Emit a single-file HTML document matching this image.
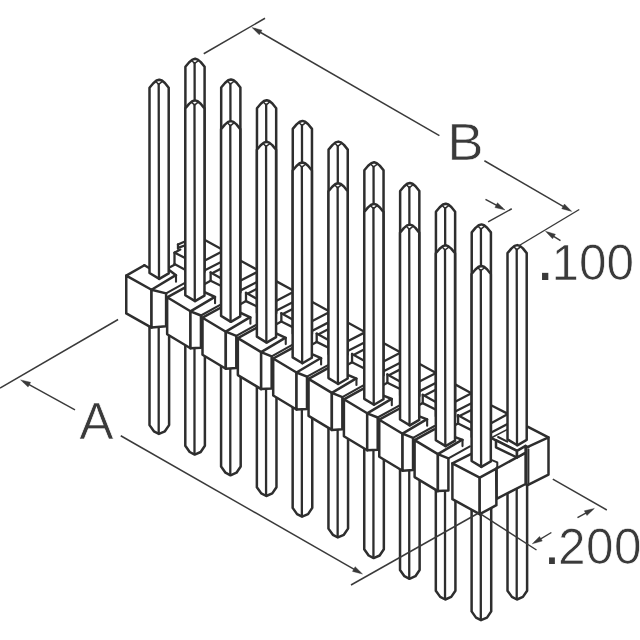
<!DOCTYPE html>
<html lang="en"><head><meta charset="utf-8"><title>Pin header drawing</title>
<style>
html,body{margin:0;padding:0;background:#fff;}
body{width:640px;height:640px;overflow:hidden;font-family:"Liberation Sans",Arial,sans-serif;}
svg{display:block;}
</style></head><body>
<svg width="640" height="640" viewBox="0 0 640 640">
<rect width="640" height="640" fill="#fff"/>
<path d="M507.51,470.00 L507.51,590.70 L511.91,596.90 L516.91,599.50 L522.91,596.90 L527.11,590.70 L527.11,470.00" fill="#fff" stroke="#2e2e2e" stroke-width="2.5" stroke-linejoin="round" stroke-linecap="round"/>
<line x1="516.71" y1="470.00" x2="516.71" y2="598.90" stroke="#2e2e2e" stroke-width="2.3" stroke-linecap="round"/>
<path d="M489.00,436.80 L496.00,440.30 L517.00,450.90 L526.00,446.40 L548.40,437.40 L528.40,427.00 L489.00,406.50 Z" fill="#fff" stroke="none" stroke-width="0" stroke-linejoin="round" stroke-linecap="round"/>
<path d="M496.00,447.30 L517.00,457.50 L496.60,468.60 Z" fill="#fff" stroke="none" stroke-width="0" stroke-linejoin="round" stroke-linecap="round"/>
<line x1="487.00" y1="425.40" x2="507.00" y2="414.60" stroke="#2e2e2e" stroke-width="2.3" stroke-linecap="round"/>
<line x1="487.00" y1="434.80" x2="507.00" y2="424.20" stroke="#2e2e2e" stroke-width="2.3" stroke-linecap="round"/>
<line x1="492.00" y1="405.80" x2="507.50" y2="413.60" stroke="#2e2e2e" stroke-width="2.3" stroke-linecap="round"/>
<line x1="490.00" y1="438.50" x2="507.00" y2="429.60" stroke="#2e2e2e" stroke-width="1.6" stroke-linecap="round"/>
<line x1="489.00" y1="436.80" x2="496.00" y2="440.30" stroke="#2e2e2e" stroke-width="2.5" stroke-linecap="round"/>
<line x1="496.00" y1="440.30" x2="517.00" y2="450.90" stroke="#2e2e2e" stroke-width="2.5" stroke-linecap="round"/>
<line x1="528.00" y1="426.80" x2="548.40" y2="437.40" stroke="#2e2e2e" stroke-width="2.5" stroke-linecap="round"/>
<line x1="498.10" y1="437.00" x2="507.30" y2="441.60" stroke="#2e2e2e" stroke-width="2.0" stroke-linecap="round"/>
<path d="M496.60,468.50 L525.60,452.60 L525.60,484.00 L496.60,498.80 Z" fill="#fff" stroke="#2e2e2e" stroke-width="2.5" stroke-linejoin="round" stroke-linecap="round"/>
<path d="M496.00,440.30 L517.00,450.90 L517.00,457.50 L496.00,447.30 Z" fill="#fff" stroke="#2e2e2e" stroke-width="2.5" stroke-linejoin="round" stroke-linecap="round"/>
<path d="M517.00,450.90 L525.60,445.80 L525.60,452.60 L517.00,457.50 Z" fill="#fff" stroke="#2e2e2e" stroke-width="2.5" stroke-linejoin="round" stroke-linecap="round"/>
<path d="M526.20,447.60 L548.50,437.40 L548.50,474.60 L527.60,485.20 L526.20,484.40 Z" fill="#fff" stroke="#2e2e2e" stroke-width="2.5" stroke-linejoin="round" stroke-linecap="round"/>
<line x1="528.40" y1="449.50" x2="528.40" y2="484.60" stroke="#2e2e2e" stroke-width="2.0" stroke-linecap="round"/>
<line x1="525.60" y1="445.80" x2="528.60" y2="447.40" stroke="#2e2e2e" stroke-width="2.0" stroke-linecap="round"/>
<path d="M507.51,439.40 L517.31,445.30 L526.71,439.80 L526.71,253.10 L522.91,248.40 L519.91,245.90 L517.31,245.10 L514.51,245.90 L511.31,248.60 L507.51,253.10 Z" fill="#fff" stroke="#2e2e2e" stroke-width="2.5" stroke-linejoin="round" stroke-linecap="round"/>
<line x1="516.71" y1="249.60" x2="517.01" y2="445.30" stroke="#2e2e2e" stroke-width="2.3" stroke-linecap="round"/>
<path d="M514.11,247.10 L516.71,249.80 L520.11,247.10" fill="none" stroke="#2e2e2e" stroke-width="1.5" stroke-linejoin="round" stroke-linecap="round"/>
<line x1="203.95" y1="239.57" x2="224.45" y2="250.79" stroke="#2e2e2e" stroke-width="2.3" stroke-linecap="round"/>
<line x1="202.45" y1="261.70" x2="224.95" y2="250.02" stroke="#2e2e2e" stroke-width="2.3" stroke-linecap="round"/>
<line x1="202.45" y1="271.47" x2="225.45" y2="259.68" stroke="#2e2e2e" stroke-width="2.3" stroke-linecap="round"/>
<line x1="210.65" y1="272.40" x2="225.45" y2="280.67" stroke="#2e2e2e" stroke-width="2.3" stroke-linecap="round"/>
<line x1="210.65" y1="272.40" x2="210.65" y2="280.70" stroke="#2e2e2e" stroke-width="2.3" stroke-linecap="round"/>
<line x1="213.05" y1="272.80" x2="225.45" y2="266.36" stroke="#2e2e2e" stroke-width="2.3" stroke-linecap="round"/>
<line x1="202.45" y1="285.30" x2="210.65" y2="280.70" stroke="#2e2e2e" stroke-width="2.3" stroke-linecap="round"/>
<line x1="210.65" y1="280.70" x2="225.45" y2="288.07" stroke="#2e2e2e" stroke-width="2.3" stroke-linecap="round"/>
<line x1="239.30" y1="259.97" x2="259.80" y2="271.19" stroke="#2e2e2e" stroke-width="2.3" stroke-linecap="round"/>
<line x1="237.80" y1="282.10" x2="260.30" y2="270.42" stroke="#2e2e2e" stroke-width="2.3" stroke-linecap="round"/>
<line x1="237.80" y1="291.87" x2="260.80" y2="280.08" stroke="#2e2e2e" stroke-width="2.3" stroke-linecap="round"/>
<line x1="246.00" y1="292.80" x2="260.80" y2="301.07" stroke="#2e2e2e" stroke-width="2.3" stroke-linecap="round"/>
<line x1="246.00" y1="292.80" x2="246.00" y2="301.10" stroke="#2e2e2e" stroke-width="2.3" stroke-linecap="round"/>
<line x1="248.40" y1="293.20" x2="260.80" y2="286.76" stroke="#2e2e2e" stroke-width="2.3" stroke-linecap="round"/>
<line x1="237.80" y1="305.70" x2="246.00" y2="301.10" stroke="#2e2e2e" stroke-width="2.3" stroke-linecap="round"/>
<line x1="246.00" y1="301.10" x2="260.80" y2="308.47" stroke="#2e2e2e" stroke-width="2.3" stroke-linecap="round"/>
<line x1="274.65" y1="280.37" x2="295.15" y2="291.59" stroke="#2e2e2e" stroke-width="2.3" stroke-linecap="round"/>
<line x1="273.15" y1="302.50" x2="295.65" y2="290.82" stroke="#2e2e2e" stroke-width="2.3" stroke-linecap="round"/>
<line x1="273.15" y1="312.27" x2="296.15" y2="300.48" stroke="#2e2e2e" stroke-width="2.3" stroke-linecap="round"/>
<line x1="281.35" y1="313.20" x2="296.15" y2="321.47" stroke="#2e2e2e" stroke-width="2.3" stroke-linecap="round"/>
<line x1="281.35" y1="313.20" x2="281.35" y2="321.50" stroke="#2e2e2e" stroke-width="2.3" stroke-linecap="round"/>
<line x1="283.75" y1="313.60" x2="296.15" y2="307.16" stroke="#2e2e2e" stroke-width="2.3" stroke-linecap="round"/>
<line x1="273.15" y1="326.10" x2="281.35" y2="321.50" stroke="#2e2e2e" stroke-width="2.3" stroke-linecap="round"/>
<line x1="281.35" y1="321.50" x2="296.15" y2="328.87" stroke="#2e2e2e" stroke-width="2.3" stroke-linecap="round"/>
<line x1="310.00" y1="300.77" x2="330.50" y2="311.99" stroke="#2e2e2e" stroke-width="2.3" stroke-linecap="round"/>
<line x1="308.50" y1="322.90" x2="331.00" y2="311.22" stroke="#2e2e2e" stroke-width="2.3" stroke-linecap="round"/>
<line x1="308.50" y1="332.67" x2="331.50" y2="320.88" stroke="#2e2e2e" stroke-width="2.3" stroke-linecap="round"/>
<line x1="316.70" y1="333.60" x2="331.50" y2="341.87" stroke="#2e2e2e" stroke-width="2.3" stroke-linecap="round"/>
<line x1="316.70" y1="333.60" x2="316.70" y2="341.90" stroke="#2e2e2e" stroke-width="2.3" stroke-linecap="round"/>
<line x1="319.10" y1="334.00" x2="331.50" y2="327.56" stroke="#2e2e2e" stroke-width="2.3" stroke-linecap="round"/>
<line x1="308.50" y1="346.50" x2="316.70" y2="341.90" stroke="#2e2e2e" stroke-width="2.3" stroke-linecap="round"/>
<line x1="316.70" y1="341.90" x2="331.50" y2="349.27" stroke="#2e2e2e" stroke-width="2.3" stroke-linecap="round"/>
<line x1="345.35" y1="321.17" x2="365.85" y2="332.39" stroke="#2e2e2e" stroke-width="2.3" stroke-linecap="round"/>
<line x1="343.85" y1="343.30" x2="366.35" y2="331.62" stroke="#2e2e2e" stroke-width="2.3" stroke-linecap="round"/>
<line x1="343.85" y1="353.07" x2="366.85" y2="341.28" stroke="#2e2e2e" stroke-width="2.3" stroke-linecap="round"/>
<line x1="352.05" y1="354.00" x2="366.85" y2="362.27" stroke="#2e2e2e" stroke-width="2.3" stroke-linecap="round"/>
<line x1="352.05" y1="354.00" x2="352.05" y2="362.30" stroke="#2e2e2e" stroke-width="2.3" stroke-linecap="round"/>
<line x1="354.45" y1="354.40" x2="366.85" y2="347.96" stroke="#2e2e2e" stroke-width="2.3" stroke-linecap="round"/>
<line x1="343.85" y1="366.90" x2="352.05" y2="362.30" stroke="#2e2e2e" stroke-width="2.3" stroke-linecap="round"/>
<line x1="352.05" y1="362.30" x2="366.85" y2="369.67" stroke="#2e2e2e" stroke-width="2.3" stroke-linecap="round"/>
<line x1="380.70" y1="341.57" x2="401.20" y2="352.79" stroke="#2e2e2e" stroke-width="2.3" stroke-linecap="round"/>
<line x1="379.20" y1="363.70" x2="401.70" y2="352.02" stroke="#2e2e2e" stroke-width="2.3" stroke-linecap="round"/>
<line x1="379.20" y1="373.47" x2="402.20" y2="361.68" stroke="#2e2e2e" stroke-width="2.3" stroke-linecap="round"/>
<line x1="387.40" y1="374.40" x2="402.20" y2="382.67" stroke="#2e2e2e" stroke-width="2.3" stroke-linecap="round"/>
<line x1="387.40" y1="374.40" x2="387.40" y2="382.70" stroke="#2e2e2e" stroke-width="2.3" stroke-linecap="round"/>
<line x1="389.80" y1="374.80" x2="402.20" y2="368.36" stroke="#2e2e2e" stroke-width="2.3" stroke-linecap="round"/>
<line x1="379.20" y1="387.30" x2="387.40" y2="382.70" stroke="#2e2e2e" stroke-width="2.3" stroke-linecap="round"/>
<line x1="387.40" y1="382.70" x2="402.20" y2="390.07" stroke="#2e2e2e" stroke-width="2.3" stroke-linecap="round"/>
<line x1="416.05" y1="361.97" x2="436.55" y2="373.19" stroke="#2e2e2e" stroke-width="2.3" stroke-linecap="round"/>
<line x1="414.55" y1="384.10" x2="437.05" y2="372.42" stroke="#2e2e2e" stroke-width="2.3" stroke-linecap="round"/>
<line x1="414.55" y1="393.87" x2="437.55" y2="382.08" stroke="#2e2e2e" stroke-width="2.3" stroke-linecap="round"/>
<line x1="422.75" y1="394.80" x2="437.55" y2="403.07" stroke="#2e2e2e" stroke-width="2.3" stroke-linecap="round"/>
<line x1="422.75" y1="394.80" x2="422.75" y2="403.10" stroke="#2e2e2e" stroke-width="2.3" stroke-linecap="round"/>
<line x1="425.15" y1="395.20" x2="437.55" y2="388.76" stroke="#2e2e2e" stroke-width="2.3" stroke-linecap="round"/>
<line x1="414.55" y1="407.70" x2="422.75" y2="403.10" stroke="#2e2e2e" stroke-width="2.3" stroke-linecap="round"/>
<line x1="422.75" y1="403.10" x2="437.55" y2="410.47" stroke="#2e2e2e" stroke-width="2.3" stroke-linecap="round"/>
<line x1="451.40" y1="382.37" x2="471.90" y2="393.59" stroke="#2e2e2e" stroke-width="2.3" stroke-linecap="round"/>
<line x1="449.90" y1="404.50" x2="472.40" y2="392.82" stroke="#2e2e2e" stroke-width="2.3" stroke-linecap="round"/>
<line x1="449.90" y1="414.27" x2="472.90" y2="402.48" stroke="#2e2e2e" stroke-width="2.3" stroke-linecap="round"/>
<line x1="458.10" y1="415.20" x2="472.90" y2="423.47" stroke="#2e2e2e" stroke-width="2.3" stroke-linecap="round"/>
<line x1="458.10" y1="415.20" x2="458.10" y2="423.50" stroke="#2e2e2e" stroke-width="2.3" stroke-linecap="round"/>
<line x1="460.50" y1="415.60" x2="472.90" y2="409.16" stroke="#2e2e2e" stroke-width="2.3" stroke-linecap="round"/>
<line x1="449.90" y1="428.10" x2="458.10" y2="423.50" stroke="#2e2e2e" stroke-width="2.3" stroke-linecap="round"/>
<line x1="458.10" y1="423.50" x2="472.90" y2="430.87" stroke="#2e2e2e" stroke-width="2.3" stroke-linecap="round"/>
<line x1="178.00" y1="244.50" x2="186.00" y2="241.00" stroke="#2e2e2e" stroke-width="2.3" stroke-linecap="round"/>
<line x1="178.00" y1="244.50" x2="178.00" y2="248.80" stroke="#2e2e2e" stroke-width="2.3" stroke-linecap="round"/>
<line x1="179.50" y1="247.40" x2="186.00" y2="245.00" stroke="#2e2e2e" stroke-width="2.3" stroke-linecap="round"/>
<line x1="174.50" y1="252.70" x2="180.30" y2="249.60" stroke="#2e2e2e" stroke-width="2.3" stroke-linecap="round"/>
<line x1="174.80" y1="252.70" x2="186.00" y2="258.50" stroke="#2e2e2e" stroke-width="2.3" stroke-linecap="round"/>
<line x1="174.50" y1="252.70" x2="174.50" y2="264.00" stroke="#2e2e2e" stroke-width="2.3" stroke-linecap="round"/>
<line x1="174.50" y1="264.00" x2="186.00" y2="270.20" stroke="#2e2e2e" stroke-width="2.3" stroke-linecap="round"/>
<line x1="169.40" y1="267.50" x2="174.50" y2="264.80" stroke="#2e2e2e" stroke-width="2.3" stroke-linecap="round"/>
<path d="M185.40,271.22 L195.20,277.12 L204.60,271.62 L204.60,66.80 L200.80,62.10 L197.80,59.60 L195.20,58.80 L192.40,59.60 L189.20,62.30 L185.40,66.80 Z" fill="#fff" stroke="#2e2e2e" stroke-width="2.5" stroke-linejoin="round" stroke-linecap="round"/>
<line x1="194.60" y1="63.30" x2="194.90" y2="277.12" stroke="#2e2e2e" stroke-width="2.3" stroke-linecap="round"/>
<path d="M192.00,60.80 L194.60,63.50 L198.00,60.80" fill="none" stroke="#2e2e2e" stroke-width="1.5" stroke-linejoin="round" stroke-linecap="round"/>
<path d="M221.19,291.94 L230.99,297.84 L240.39,292.34 L240.39,87.50 L236.59,82.80 L233.59,80.30 L230.99,79.50 L228.19,80.30 L224.99,83.00 L221.19,87.50 Z" fill="#fff" stroke="#2e2e2e" stroke-width="2.5" stroke-linejoin="round" stroke-linecap="round"/>
<line x1="230.39" y1="84.00" x2="230.69" y2="297.84" stroke="#2e2e2e" stroke-width="2.3" stroke-linecap="round"/>
<path d="M227.79,81.50 L230.39,84.20 L233.79,81.50" fill="none" stroke="#2e2e2e" stroke-width="1.5" stroke-linejoin="round" stroke-linecap="round"/>
<path d="M256.98,312.66 L266.78,318.56 L276.18,313.06 L276.18,108.20 L272.38,103.50 L269.38,101.00 L266.78,100.20 L263.98,101.00 L260.78,103.70 L256.98,108.20 Z" fill="#fff" stroke="#2e2e2e" stroke-width="2.5" stroke-linejoin="round" stroke-linecap="round"/>
<line x1="266.18" y1="104.70" x2="266.48" y2="318.56" stroke="#2e2e2e" stroke-width="2.3" stroke-linecap="round"/>
<path d="M263.58,102.20 L266.18,104.90 L269.58,102.20" fill="none" stroke="#2e2e2e" stroke-width="1.5" stroke-linejoin="round" stroke-linecap="round"/>
<path d="M292.77,333.38 L302.57,339.28 L311.97,333.78 L311.97,128.90 L308.17,124.20 L305.17,121.70 L302.57,120.90 L299.77,121.70 L296.57,124.40 L292.77,128.90 Z" fill="#fff" stroke="#2e2e2e" stroke-width="2.5" stroke-linejoin="round" stroke-linecap="round"/>
<line x1="301.97" y1="125.40" x2="302.27" y2="339.28" stroke="#2e2e2e" stroke-width="2.3" stroke-linecap="round"/>
<path d="M299.37,122.90 L301.97,125.60 L305.37,122.90" fill="none" stroke="#2e2e2e" stroke-width="1.5" stroke-linejoin="round" stroke-linecap="round"/>
<path d="M328.56,354.10 L338.36,360.00 L347.76,354.50 L347.76,149.60 L343.96,144.90 L340.96,142.40 L338.36,141.60 L335.56,142.40 L332.36,145.10 L328.56,149.60 Z" fill="#fff" stroke="#2e2e2e" stroke-width="2.5" stroke-linejoin="round" stroke-linecap="round"/>
<line x1="337.76" y1="146.10" x2="338.06" y2="360.00" stroke="#2e2e2e" stroke-width="2.3" stroke-linecap="round"/>
<path d="M335.16,143.60 L337.76,146.30 L341.16,143.60" fill="none" stroke="#2e2e2e" stroke-width="1.5" stroke-linejoin="round" stroke-linecap="round"/>
<path d="M364.35,374.82 L374.15,380.72 L383.55,375.22 L383.55,170.30 L379.75,165.60 L376.75,163.10 L374.15,162.30 L371.35,163.10 L368.15,165.80 L364.35,170.30 Z" fill="#fff" stroke="#2e2e2e" stroke-width="2.5" stroke-linejoin="round" stroke-linecap="round"/>
<line x1="373.55" y1="166.80" x2="373.85" y2="380.72" stroke="#2e2e2e" stroke-width="2.3" stroke-linecap="round"/>
<path d="M370.95,164.30 L373.55,167.00 L376.95,164.30" fill="none" stroke="#2e2e2e" stroke-width="1.5" stroke-linejoin="round" stroke-linecap="round"/>
<path d="M400.14,395.54 L409.94,401.44 L419.34,395.94 L419.34,191.00 L415.54,186.30 L412.54,183.80 L409.94,183.00 L407.14,183.80 L403.94,186.50 L400.14,191.00 Z" fill="#fff" stroke="#2e2e2e" stroke-width="2.5" stroke-linejoin="round" stroke-linecap="round"/>
<line x1="409.34" y1="187.50" x2="409.64" y2="401.44" stroke="#2e2e2e" stroke-width="2.3" stroke-linecap="round"/>
<path d="M406.74,185.00 L409.34,187.70 L412.74,185.00" fill="none" stroke="#2e2e2e" stroke-width="1.5" stroke-linejoin="round" stroke-linecap="round"/>
<path d="M435.93,416.26 L445.73,422.16 L455.13,416.66 L455.13,211.70 L451.33,207.00 L448.33,204.50 L445.73,203.70 L442.93,204.50 L439.73,207.20 L435.93,211.70 Z" fill="#fff" stroke="#2e2e2e" stroke-width="2.5" stroke-linejoin="round" stroke-linecap="round"/>
<line x1="445.13" y1="208.20" x2="445.43" y2="422.16" stroke="#2e2e2e" stroke-width="2.3" stroke-linecap="round"/>
<path d="M442.53,205.70 L445.13,208.40 L448.53,205.70" fill="none" stroke="#2e2e2e" stroke-width="1.5" stroke-linejoin="round" stroke-linecap="round"/>
<path d="M471.72,436.98 L481.52,442.88 L490.92,437.38 L490.92,232.40 L487.12,227.70 L484.12,225.20 L481.52,224.40 L478.72,225.20 L475.52,227.90 L471.72,232.40 Z" fill="#fff" stroke="#2e2e2e" stroke-width="2.5" stroke-linejoin="round" stroke-linecap="round"/>
<line x1="480.92" y1="228.90" x2="481.22" y2="442.88" stroke="#2e2e2e" stroke-width="2.3" stroke-linecap="round"/>
<path d="M478.32,226.40 L480.92,229.10 L484.32,226.40" fill="none" stroke="#2e2e2e" stroke-width="1.5" stroke-linejoin="round" stroke-linecap="round"/>
<path d="M149.50,319.55 L149.50,425.10 L153.90,431.30 L158.90,433.90 L164.90,431.30 L169.10,425.10 L169.10,319.55" fill="#fff" stroke="#2e2e2e" stroke-width="2.5" stroke-linejoin="round" stroke-linecap="round"/>
<line x1="158.70" y1="319.55" x2="158.70" y2="433.30" stroke="#2e2e2e" stroke-width="2.3" stroke-linecap="round"/>
<path d="M126.25,275.60 L151.50,289.75 L166.10,293.35 L187.60,281.55 L176.00,275.25 L150.75,261.10 Z" fill="#fff" stroke="none" stroke-width="0" stroke-linejoin="round" stroke-linecap="round"/>
<path d="M151.50,289.75 L126.25,275.60 L126.25,313.40 L151.50,327.55 Z" fill="#fff" stroke="#2e2e2e" stroke-width="2.5" stroke-linejoin="round" stroke-linecap="round"/>
<path d="M151.50,289.75 L166.10,293.35 L166.10,326.35 L151.50,327.55 Z" fill="#fff" stroke="#2e2e2e" stroke-width="2.5" stroke-linejoin="round" stroke-linecap="round"/>
<line x1="151.50" y1="289.75" x2="175.00" y2="275.65" stroke="#2e2e2e" stroke-width="2.5" stroke-linecap="round"/>
<line x1="166.10" y1="293.35" x2="187.60" y2="281.45" stroke="#2e2e2e" stroke-width="2.1" stroke-linecap="round"/>
<line x1="126.25" y1="275.60" x2="144.40" y2="265.25" stroke="#2e2e2e" stroke-width="2.5" stroke-linecap="round"/>
<line x1="144.40" y1="265.25" x2="149.50" y2="268.25" stroke="#2e2e2e" stroke-width="2.5" stroke-linecap="round"/>
<line x1="168.70" y1="269.80" x2="176.00" y2="275.35" stroke="#2e2e2e" stroke-width="2.5" stroke-linecap="round"/>
<line x1="176.00" y1="275.35" x2="176.00" y2="281.65" stroke="#2e2e2e" stroke-width="2.1" stroke-linecap="round"/>
<path d="M149.50,273.00 L159.30,278.90 L168.70,273.40 L168.70,87.70 L164.90,83.00 L161.90,80.50 L159.30,79.70 L156.50,80.50 L153.30,83.20 L149.50,87.70 Z" fill="#fff" stroke="#2e2e2e" stroke-width="2.5" stroke-linejoin="round" stroke-linecap="round"/>
<line x1="158.70" y1="84.20" x2="159.00" y2="278.90" stroke="#2e2e2e" stroke-width="2.3" stroke-linecap="round"/>
<path d="M156.10,81.70 L158.70,84.40 L162.10,81.70" fill="none" stroke="#2e2e2e" stroke-width="1.5" stroke-linejoin="round" stroke-linecap="round"/>
<path d="M185.29,340.30 L185.29,445.80 L189.69,452.00 L194.69,454.60 L200.69,452.00 L204.89,445.80 L204.89,340.30" fill="#fff" stroke="#2e2e2e" stroke-width="2.5" stroke-linejoin="round" stroke-linecap="round"/>
<line x1="194.49" y1="340.30" x2="194.49" y2="454.00" stroke="#2e2e2e" stroke-width="2.3" stroke-linecap="round"/>
<path d="M167.15,297.30 L190.45,311.30 L200.95,315.50 L222.45,303.70 L215.05,296.90 L191.75,282.90 Z" fill="#fff" stroke="none" stroke-width="0" stroke-linejoin="round" stroke-linecap="round"/>
<path d="M190.45,311.30 L167.15,297.30 L167.15,334.30 L190.45,348.30 Z" fill="#fff" stroke="#2e2e2e" stroke-width="2.5" stroke-linejoin="round" stroke-linecap="round"/>
<path d="M190.45,311.30 L200.95,315.50 L200.95,347.70 L190.45,348.30 Z" fill="#fff" stroke="#2e2e2e" stroke-width="2.5" stroke-linejoin="round" stroke-linecap="round"/>
<line x1="190.45" y1="311.30" x2="214.05" y2="297.30" stroke="#2e2e2e" stroke-width="2.5" stroke-linecap="round"/>
<line x1="200.95" y1="315.50" x2="222.45" y2="303.60" stroke="#2e2e2e" stroke-width="2.1" stroke-linecap="round"/>
<line x1="167.15" y1="297.30" x2="186.65" y2="286.60" stroke="#2e2e2e" stroke-width="2.5" stroke-linecap="round"/>
<line x1="204.49" y1="292.02" x2="215.05" y2="297.00" stroke="#2e2e2e" stroke-width="2.5" stroke-linecap="round"/>
<line x1="215.05" y1="297.00" x2="215.05" y2="303.30" stroke="#2e2e2e" stroke-width="2.1" stroke-linecap="round"/>
<path d="M185.29,295.22 L195.09,301.12 L204.49,295.62 L204.49,108.40 L200.69,103.70 L197.69,101.20 L195.09,100.40 L192.29,101.20 L189.09,103.90 L185.29,108.40 Z" fill="#fff" stroke="#2e2e2e" stroke-width="2.5" stroke-linejoin="round" stroke-linecap="round"/>
<line x1="194.49" y1="104.90" x2="194.79" y2="301.12" stroke="#2e2e2e" stroke-width="2.3" stroke-linecap="round"/>
<path d="M191.89,102.40 L194.49,105.10 L197.89,102.40" fill="none" stroke="#2e2e2e" stroke-width="1.5" stroke-linejoin="round" stroke-linecap="round"/>
<path d="M221.08,360.70 L221.08,466.50 L225.48,472.70 L230.48,475.30 L236.48,472.70 L240.68,466.50 L240.68,360.70" fill="#fff" stroke="#2e2e2e" stroke-width="2.5" stroke-linejoin="round" stroke-linecap="round"/>
<line x1="230.28" y1="360.70" x2="230.28" y2="474.70" stroke="#2e2e2e" stroke-width="2.3" stroke-linecap="round"/>
<path d="M202.50,317.70 L225.80,331.70 L236.30,335.90 L257.80,324.10 L250.40,317.30 L227.10,303.30 Z" fill="#fff" stroke="none" stroke-width="0" stroke-linejoin="round" stroke-linecap="round"/>
<path d="M225.80,331.70 L202.50,317.70 L202.50,354.70 L225.80,368.70 Z" fill="#fff" stroke="#2e2e2e" stroke-width="2.5" stroke-linejoin="round" stroke-linecap="round"/>
<path d="M225.80,331.70 L236.30,335.90 L236.30,368.10 L225.80,368.70 Z" fill="#fff" stroke="#2e2e2e" stroke-width="2.5" stroke-linejoin="round" stroke-linecap="round"/>
<line x1="225.80" y1="331.70" x2="249.40" y2="317.70" stroke="#2e2e2e" stroke-width="2.5" stroke-linecap="round"/>
<line x1="236.30" y1="335.90" x2="257.80" y2="324.00" stroke="#2e2e2e" stroke-width="2.1" stroke-linecap="round"/>
<line x1="202.50" y1="317.70" x2="222.00" y2="307.00" stroke="#2e2e2e" stroke-width="2.5" stroke-linecap="round"/>
<line x1="240.28" y1="312.74" x2="250.40" y2="317.40" stroke="#2e2e2e" stroke-width="2.5" stroke-linecap="round"/>
<line x1="250.40" y1="317.40" x2="250.40" y2="323.70" stroke="#2e2e2e" stroke-width="2.1" stroke-linecap="round"/>
<path d="M221.08,315.94 L230.88,321.84 L240.28,316.34 L240.28,129.10 L236.48,124.40 L233.48,121.90 L230.88,121.10 L228.08,121.90 L224.88,124.60 L221.08,129.10 Z" fill="#fff" stroke="#2e2e2e" stroke-width="2.5" stroke-linejoin="round" stroke-linecap="round"/>
<line x1="230.28" y1="125.60" x2="230.58" y2="321.84" stroke="#2e2e2e" stroke-width="2.3" stroke-linecap="round"/>
<path d="M227.68,123.10 L230.28,125.80 L233.68,123.10" fill="none" stroke="#2e2e2e" stroke-width="1.5" stroke-linejoin="round" stroke-linecap="round"/>
<path d="M256.87,381.10 L256.87,487.20 L261.27,493.40 L266.27,496.00 L272.27,493.40 L276.47,487.20 L276.47,381.10" fill="#fff" stroke="#2e2e2e" stroke-width="2.5" stroke-linejoin="round" stroke-linecap="round"/>
<line x1="266.07" y1="381.10" x2="266.07" y2="495.40" stroke="#2e2e2e" stroke-width="2.3" stroke-linecap="round"/>
<path d="M237.85,338.10 L261.15,352.10 L271.65,356.30 L293.15,344.50 L285.75,337.70 L262.45,323.70 Z" fill="#fff" stroke="none" stroke-width="0" stroke-linejoin="round" stroke-linecap="round"/>
<path d="M261.15,352.10 L237.85,338.10 L237.85,375.10 L261.15,389.10 Z" fill="#fff" stroke="#2e2e2e" stroke-width="2.5" stroke-linejoin="round" stroke-linecap="round"/>
<path d="M261.15,352.10 L271.65,356.30 L271.65,388.50 L261.15,389.10 Z" fill="#fff" stroke="#2e2e2e" stroke-width="2.5" stroke-linejoin="round" stroke-linecap="round"/>
<line x1="261.15" y1="352.10" x2="284.75" y2="338.10" stroke="#2e2e2e" stroke-width="2.5" stroke-linecap="round"/>
<line x1="271.65" y1="356.30" x2="293.15" y2="344.40" stroke="#2e2e2e" stroke-width="2.1" stroke-linecap="round"/>
<line x1="237.85" y1="338.10" x2="257.35" y2="327.40" stroke="#2e2e2e" stroke-width="2.5" stroke-linecap="round"/>
<line x1="276.07" y1="333.46" x2="285.75" y2="337.80" stroke="#2e2e2e" stroke-width="2.5" stroke-linecap="round"/>
<line x1="285.75" y1="337.80" x2="285.75" y2="344.10" stroke="#2e2e2e" stroke-width="2.1" stroke-linecap="round"/>
<path d="M256.87,336.66 L266.67,342.56 L276.07,337.06 L276.07,149.80 L272.27,145.10 L269.27,142.60 L266.67,141.80 L263.87,142.60 L260.67,145.30 L256.87,149.80 Z" fill="#fff" stroke="#2e2e2e" stroke-width="2.5" stroke-linejoin="round" stroke-linecap="round"/>
<line x1="266.07" y1="146.30" x2="266.37" y2="342.56" stroke="#2e2e2e" stroke-width="2.3" stroke-linecap="round"/>
<path d="M263.47,143.80 L266.07,146.50 L269.47,143.80" fill="none" stroke="#2e2e2e" stroke-width="1.5" stroke-linejoin="round" stroke-linecap="round"/>
<path d="M292.66,401.50 L292.66,507.90 L297.06,514.10 L302.06,516.70 L308.06,514.10 L312.26,507.90 L312.26,401.50" fill="#fff" stroke="#2e2e2e" stroke-width="2.5" stroke-linejoin="round" stroke-linecap="round"/>
<line x1="301.86" y1="401.50" x2="301.86" y2="516.10" stroke="#2e2e2e" stroke-width="2.3" stroke-linecap="round"/>
<path d="M273.20,358.50 L296.50,372.50 L307.00,376.70 L328.50,364.90 L321.10,358.10 L297.80,344.10 Z" fill="#fff" stroke="none" stroke-width="0" stroke-linejoin="round" stroke-linecap="round"/>
<path d="M296.50,372.50 L273.20,358.50 L273.20,395.50 L296.50,409.50 Z" fill="#fff" stroke="#2e2e2e" stroke-width="2.5" stroke-linejoin="round" stroke-linecap="round"/>
<path d="M296.50,372.50 L307.00,376.70 L307.00,408.90 L296.50,409.50 Z" fill="#fff" stroke="#2e2e2e" stroke-width="2.5" stroke-linejoin="round" stroke-linecap="round"/>
<line x1="296.50" y1="372.50" x2="320.10" y2="358.50" stroke="#2e2e2e" stroke-width="2.5" stroke-linecap="round"/>
<line x1="307.00" y1="376.70" x2="328.50" y2="364.80" stroke="#2e2e2e" stroke-width="2.1" stroke-linecap="round"/>
<line x1="273.20" y1="358.50" x2="292.70" y2="347.80" stroke="#2e2e2e" stroke-width="2.5" stroke-linecap="round"/>
<line x1="311.86" y1="354.18" x2="321.10" y2="358.20" stroke="#2e2e2e" stroke-width="2.5" stroke-linecap="round"/>
<line x1="321.10" y1="358.20" x2="321.10" y2="364.50" stroke="#2e2e2e" stroke-width="2.1" stroke-linecap="round"/>
<path d="M292.66,357.38 L302.46,363.28 L311.86,357.78 L311.86,170.50 L308.06,165.80 L305.06,163.30 L302.46,162.50 L299.66,163.30 L296.46,166.00 L292.66,170.50 Z" fill="#fff" stroke="#2e2e2e" stroke-width="2.5" stroke-linejoin="round" stroke-linecap="round"/>
<line x1="301.86" y1="167.00" x2="302.16" y2="363.28" stroke="#2e2e2e" stroke-width="2.3" stroke-linecap="round"/>
<path d="M299.26,164.50 L301.86,167.20 L305.26,164.50" fill="none" stroke="#2e2e2e" stroke-width="1.5" stroke-linejoin="round" stroke-linecap="round"/>
<path d="M328.45,421.90 L328.45,528.60 L332.85,534.80 L337.85,537.40 L343.85,534.80 L348.05,528.60 L348.05,421.90" fill="#fff" stroke="#2e2e2e" stroke-width="2.5" stroke-linejoin="round" stroke-linecap="round"/>
<line x1="337.65" y1="421.90" x2="337.65" y2="536.80" stroke="#2e2e2e" stroke-width="2.3" stroke-linecap="round"/>
<path d="M308.55,378.90 L331.85,392.90 L342.35,397.10 L363.85,385.30 L356.45,378.50 L333.15,364.50 Z" fill="#fff" stroke="none" stroke-width="0" stroke-linejoin="round" stroke-linecap="round"/>
<path d="M331.85,392.90 L308.55,378.90 L308.55,415.90 L331.85,429.90 Z" fill="#fff" stroke="#2e2e2e" stroke-width="2.5" stroke-linejoin="round" stroke-linecap="round"/>
<path d="M331.85,392.90 L342.35,397.10 L342.35,429.30 L331.85,429.90 Z" fill="#fff" stroke="#2e2e2e" stroke-width="2.5" stroke-linejoin="round" stroke-linecap="round"/>
<line x1="331.85" y1="392.90" x2="355.45" y2="378.90" stroke="#2e2e2e" stroke-width="2.5" stroke-linecap="round"/>
<line x1="342.35" y1="397.10" x2="363.85" y2="385.20" stroke="#2e2e2e" stroke-width="2.1" stroke-linecap="round"/>
<line x1="308.55" y1="378.90" x2="328.05" y2="368.20" stroke="#2e2e2e" stroke-width="2.5" stroke-linecap="round"/>
<line x1="347.65" y1="374.90" x2="356.45" y2="378.60" stroke="#2e2e2e" stroke-width="2.5" stroke-linecap="round"/>
<line x1="356.45" y1="378.60" x2="356.45" y2="384.90" stroke="#2e2e2e" stroke-width="2.1" stroke-linecap="round"/>
<path d="M328.45,378.10 L338.25,384.00 L347.65,378.50 L347.65,191.20 L343.85,186.50 L340.85,184.00 L338.25,183.20 L335.45,184.00 L332.25,186.70 L328.45,191.20 Z" fill="#fff" stroke="#2e2e2e" stroke-width="2.5" stroke-linejoin="round" stroke-linecap="round"/>
<line x1="337.65" y1="187.70" x2="337.95" y2="384.00" stroke="#2e2e2e" stroke-width="2.3" stroke-linecap="round"/>
<path d="M335.05,185.20 L337.65,187.90 L341.05,185.20" fill="none" stroke="#2e2e2e" stroke-width="1.5" stroke-linejoin="round" stroke-linecap="round"/>
<path d="M364.24,442.30 L364.24,549.30 L368.64,555.50 L373.64,558.10 L379.64,555.50 L383.84,549.30 L383.84,442.30" fill="#fff" stroke="#2e2e2e" stroke-width="2.5" stroke-linejoin="round" stroke-linecap="round"/>
<line x1="373.44" y1="442.30" x2="373.44" y2="557.50" stroke="#2e2e2e" stroke-width="2.3" stroke-linecap="round"/>
<path d="M343.90,399.30 L367.20,413.30 L377.70,417.50 L399.20,405.70 L391.80,398.90 L368.50,384.90 Z" fill="#fff" stroke="none" stroke-width="0" stroke-linejoin="round" stroke-linecap="round"/>
<path d="M367.20,413.30 L343.90,399.30 L343.90,436.30 L367.20,450.30 Z" fill="#fff" stroke="#2e2e2e" stroke-width="2.5" stroke-linejoin="round" stroke-linecap="round"/>
<path d="M367.20,413.30 L377.70,417.50 L377.70,449.70 L367.20,450.30 Z" fill="#fff" stroke="#2e2e2e" stroke-width="2.5" stroke-linejoin="round" stroke-linecap="round"/>
<line x1="367.20" y1="413.30" x2="390.80" y2="399.30" stroke="#2e2e2e" stroke-width="2.5" stroke-linecap="round"/>
<line x1="377.70" y1="417.50" x2="399.20" y2="405.60" stroke="#2e2e2e" stroke-width="2.1" stroke-linecap="round"/>
<line x1="343.90" y1="399.30" x2="363.40" y2="388.60" stroke="#2e2e2e" stroke-width="2.5" stroke-linecap="round"/>
<line x1="383.44" y1="395.62" x2="391.80" y2="399.00" stroke="#2e2e2e" stroke-width="2.5" stroke-linecap="round"/>
<line x1="391.80" y1="399.00" x2="391.80" y2="405.30" stroke="#2e2e2e" stroke-width="2.1" stroke-linecap="round"/>
<path d="M364.24,398.82 L374.04,404.72 L383.44,399.22 L383.44,211.90 L379.64,207.20 L376.64,204.70 L374.04,203.90 L371.24,204.70 L368.04,207.40 L364.24,211.90 Z" fill="#fff" stroke="#2e2e2e" stroke-width="2.5" stroke-linejoin="round" stroke-linecap="round"/>
<line x1="373.44" y1="208.40" x2="373.74" y2="404.72" stroke="#2e2e2e" stroke-width="2.3" stroke-linecap="round"/>
<path d="M370.84,205.90 L373.44,208.60 L376.84,205.90" fill="none" stroke="#2e2e2e" stroke-width="1.5" stroke-linejoin="round" stroke-linecap="round"/>
<path d="M400.03,462.70 L400.03,570.00 L404.43,576.20 L409.43,578.80 L415.43,576.20 L419.63,570.00 L419.63,462.70" fill="#fff" stroke="#2e2e2e" stroke-width="2.5" stroke-linejoin="round" stroke-linecap="round"/>
<line x1="409.23" y1="462.70" x2="409.23" y2="578.20" stroke="#2e2e2e" stroke-width="2.3" stroke-linecap="round"/>
<path d="M379.25,419.70 L402.55,433.70 L413.05,437.90 L434.55,426.10 L427.15,419.30 L403.85,405.30 Z" fill="#fff" stroke="none" stroke-width="0" stroke-linejoin="round" stroke-linecap="round"/>
<path d="M402.55,433.70 L379.25,419.70 L379.25,456.70 L402.55,470.70 Z" fill="#fff" stroke="#2e2e2e" stroke-width="2.5" stroke-linejoin="round" stroke-linecap="round"/>
<path d="M402.55,433.70 L413.05,437.90 L413.05,470.10 L402.55,470.70 Z" fill="#fff" stroke="#2e2e2e" stroke-width="2.5" stroke-linejoin="round" stroke-linecap="round"/>
<line x1="402.55" y1="433.70" x2="426.15" y2="419.70" stroke="#2e2e2e" stroke-width="2.5" stroke-linecap="round"/>
<line x1="413.05" y1="437.90" x2="434.55" y2="426.00" stroke="#2e2e2e" stroke-width="2.1" stroke-linecap="round"/>
<line x1="379.25" y1="419.70" x2="398.75" y2="409.00" stroke="#2e2e2e" stroke-width="2.5" stroke-linecap="round"/>
<line x1="419.23" y1="416.34" x2="427.15" y2="419.40" stroke="#2e2e2e" stroke-width="2.5" stroke-linecap="round"/>
<line x1="427.15" y1="419.40" x2="427.15" y2="425.70" stroke="#2e2e2e" stroke-width="2.1" stroke-linecap="round"/>
<path d="M400.03,419.54 L409.83,425.44 L419.23,419.94 L419.23,232.60 L415.43,227.90 L412.43,225.40 L409.83,224.60 L407.03,225.40 L403.83,228.10 L400.03,232.60 Z" fill="#fff" stroke="#2e2e2e" stroke-width="2.5" stroke-linejoin="round" stroke-linecap="round"/>
<line x1="409.23" y1="229.10" x2="409.53" y2="425.44" stroke="#2e2e2e" stroke-width="2.3" stroke-linecap="round"/>
<path d="M406.63,226.60 L409.23,229.30 L412.63,226.60" fill="none" stroke="#2e2e2e" stroke-width="1.5" stroke-linejoin="round" stroke-linecap="round"/>
<path d="M435.82,483.10 L435.82,590.70 L440.22,596.90 L445.22,599.50 L451.22,596.90 L455.42,590.70 L455.42,483.10" fill="#fff" stroke="#2e2e2e" stroke-width="2.5" stroke-linejoin="round" stroke-linecap="round"/>
<line x1="445.02" y1="483.10" x2="445.02" y2="598.90" stroke="#2e2e2e" stroke-width="2.3" stroke-linecap="round"/>
<path d="M414.60,440.10 L437.90,454.10 L448.40,458.30 L469.90,446.50 L462.50,439.70 L439.20,425.70 Z" fill="#fff" stroke="none" stroke-width="0" stroke-linejoin="round" stroke-linecap="round"/>
<path d="M437.90,454.10 L414.60,440.10 L414.60,477.10 L437.90,491.10 Z" fill="#fff" stroke="#2e2e2e" stroke-width="2.5" stroke-linejoin="round" stroke-linecap="round"/>
<path d="M437.90,454.10 L448.40,458.30 L448.40,490.50 L437.90,491.10 Z" fill="#fff" stroke="#2e2e2e" stroke-width="2.5" stroke-linejoin="round" stroke-linecap="round"/>
<line x1="437.90" y1="454.10" x2="461.50" y2="440.10" stroke="#2e2e2e" stroke-width="2.5" stroke-linecap="round"/>
<line x1="448.40" y1="458.30" x2="469.90" y2="446.40" stroke="#2e2e2e" stroke-width="2.1" stroke-linecap="round"/>
<line x1="414.60" y1="440.10" x2="434.10" y2="429.40" stroke="#2e2e2e" stroke-width="2.5" stroke-linecap="round"/>
<line x1="455.02" y1="437.06" x2="462.50" y2="439.80" stroke="#2e2e2e" stroke-width="2.5" stroke-linecap="round"/>
<line x1="462.50" y1="439.80" x2="462.50" y2="446.10" stroke="#2e2e2e" stroke-width="2.1" stroke-linecap="round"/>
<path d="M435.82,440.26 L445.62,446.16 L455.02,440.66 L455.02,253.30 L451.22,248.60 L448.22,246.10 L445.62,245.30 L442.82,246.10 L439.62,248.80 L435.82,253.30 Z" fill="#fff" stroke="#2e2e2e" stroke-width="2.5" stroke-linejoin="round" stroke-linecap="round"/>
<line x1="445.02" y1="249.80" x2="445.32" y2="446.16" stroke="#2e2e2e" stroke-width="2.3" stroke-linecap="round"/>
<path d="M442.42,247.30 L445.02,250.00 L448.42,247.30" fill="none" stroke="#2e2e2e" stroke-width="1.5" stroke-linejoin="round" stroke-linecap="round"/>
<path d="M471.61,506.20 L471.61,611.40 L476.01,617.60 L481.01,620.20 L487.01,617.60 L491.21,611.40 L491.21,506.20" fill="#fff" stroke="#2e2e2e" stroke-width="2.5" stroke-linejoin="round" stroke-linecap="round"/>
<line x1="480.81" y1="506.20" x2="480.81" y2="619.60" stroke="#2e2e2e" stroke-width="2.3" stroke-linecap="round"/>
<path d="M452.40,463.40 L479.70,477.70 L496.00,468.60 L468.60,454.30 Z" fill="#fff" stroke="none" stroke-width="0" stroke-linejoin="round" stroke-linecap="round"/>
<line x1="452.40" y1="463.40" x2="471.20" y2="453.90" stroke="#2e2e2e" stroke-width="2.5" stroke-linecap="round"/>
<path d="M479.70,477.70 L452.40,463.40 L452.40,499.20 L479.70,514.20 Z" fill="#fff" stroke="#2e2e2e" stroke-width="2.5" stroke-linejoin="round" stroke-linecap="round"/>
<path d="M479.70,477.70 L496.20,468.60 L496.40,505.20 L479.70,514.20 Z" fill="#fff" stroke="#2e2e2e" stroke-width="2.5" stroke-linejoin="round" stroke-linecap="round"/>
<path d="M490.60,459.60 L497.30,462.40 L497.30,466.40 L496.20,468.40" fill="none" stroke="#2e2e2e" stroke-width="2.0" stroke-linejoin="round" stroke-linecap="round"/>
<path d="M471.61,460.98 L481.41,466.88 L490.81,461.38 L490.81,274.00 L487.01,269.30 L484.01,266.80 L481.41,266.00 L478.61,266.80 L475.41,269.50 L471.61,274.00 Z" fill="#fff" stroke="#2e2e2e" stroke-width="2.5" stroke-linejoin="round" stroke-linecap="round"/>
<line x1="480.81" y1="270.50" x2="481.11" y2="466.88" stroke="#2e2e2e" stroke-width="2.3" stroke-linecap="round"/>
<path d="M478.21,268.00 L480.81,270.70 L484.21,268.00" fill="none" stroke="#2e2e2e" stroke-width="1.5" stroke-linejoin="round" stroke-linecap="round"/>
<line x1="203.75" y1="53.75" x2="265.00" y2="18.25" stroke="#3a3a3a" stroke-width="1.45" stroke-linecap="butt"/>
<path d="M252.00,27.50 L259.31,34.84 L262.01,30.16 Z" fill="#3a3a3a" stroke="#3a3a3a" stroke-width="0.4"/>
<line x1="254.60" y1="29.00" x2="439.40" y2="135.60" stroke="#3a3a3a" stroke-width="1.45" stroke-linecap="butt"/>
<path d="M571.75,211.40 L564.45,204.05 L561.74,208.72 Z" fill="#3a3a3a" stroke="#3a3a3a" stroke-width="0.4"/>
<line x1="569.15" y1="209.90" x2="484.40" y2="160.75" stroke="#3a3a3a" stroke-width="1.45" stroke-linecap="butt"/>
<line x1="519.25" y1="245.50" x2="579.25" y2="209.50" stroke="#3a3a3a" stroke-width="1.45" stroke-linecap="butt"/>
<line x1="488.10" y1="221.90" x2="511.75" y2="208.75" stroke="#3a3a3a" stroke-width="1.45" stroke-linecap="butt"/>
<path d="M505.00,209.90 L497.48,202.78 L494.92,207.54 Z" fill="#3a3a3a" stroke="#3a3a3a" stroke-width="0.4"/>
<line x1="502.36" y1="208.48" x2="485.50" y2="199.40" stroke="#3a3a3a" stroke-width="1.45" stroke-linecap="butt"/>
<path d="M545.50,231.25 L552.56,238.83 L555.41,234.25 Z" fill="#3a3a3a" stroke="#3a3a3a" stroke-width="0.4"/>
<line x1="548.05" y1="232.84" x2="560.50" y2="240.60" stroke="#3a3a3a" stroke-width="1.45" stroke-linecap="butt"/>
<line x1="118.10" y1="319.50" x2="0.00" y2="388.10" stroke="#3a3a3a" stroke-width="1.45" stroke-linecap="butt"/>
<path d="M20.60,379.90 L28.05,387.09 L30.66,382.36 Z" fill="#3a3a3a" stroke="#3a3a3a" stroke-width="0.4"/>
<line x1="23.23" y1="381.35" x2="75.00" y2="409.90" stroke="#3a3a3a" stroke-width="1.45" stroke-linecap="butt"/>
<path d="M362.50,574.00 L355.16,566.69 L352.48,571.38 Z" fill="#3a3a3a" stroke="#3a3a3a" stroke-width="0.4"/>
<line x1="359.90" y1="572.51" x2="120.75" y2="435.75" stroke="#3a3a3a" stroke-width="1.45" stroke-linecap="butt"/>
<line x1="351.00" y1="585.00" x2="479.50" y2="512.50" stroke="#3a3a3a" stroke-width="1.45" stroke-linecap="butt"/>
<line x1="479.70" y1="513.40" x2="536.50" y2="550.00" stroke="#3a3a3a" stroke-width="1.45" stroke-linecap="butt"/>
<line x1="552.80" y1="479.10" x2="606.80" y2="510.00" stroke="#3a3a3a" stroke-width="1.45" stroke-linecap="butt"/>
<path d="M532.30,543.80 L542.28,541.03 L539.53,536.38 Z" fill="#3a3a3a" stroke="#3a3a3a" stroke-width="0.4"/>
<line x1="534.88" y1="542.27" x2="551.40" y2="532.50" stroke="#3a3a3a" stroke-width="1.45" stroke-linecap="butt"/>
<path d="M594.40,508.40 L584.33,510.81 L586.91,515.55 Z" fill="#3a3a3a" stroke="#3a3a3a" stroke-width="0.4"/>
<line x1="591.77" y1="509.83" x2="577.50" y2="517.60" stroke="#3a3a3a" stroke-width="1.45" stroke-linecap="butt"/>
<text x="0" y="0" font-family="Liberation Sans, Arial, Helvetica, sans-serif" font-size="51.5" fill="#3a3a3a" stroke="#fff" stroke-width="0.7" text-anchor="start" transform="translate(447.2,159.6) scale(1.06,1)">B</text>
<text x="79.3" y="439.2" font-family="Liberation Sans, Arial, Helvetica, sans-serif" font-size="51.5" fill="#3a3a3a" stroke="#fff" stroke-width="0.7" text-anchor="start" >A</text>
<text font-family="Liberation Sans, Arial, Helvetica, sans-serif" fill="#3a3a3a"><tspan x="536.1" y="279.9" font-size="66">.</tspan><tspan x="551.4" y="280.4" font-size="49.5" stroke="#fff" stroke-width="0.7">100</tspan></text>
<text font-family="Liberation Sans, Arial, Helvetica, sans-serif" fill="#3a3a3a"><tspan x="543.5" y="564.3" font-size="61">.</tspan><tspan x="558.0" y="564.0" font-size="49.5" stroke="#fff" stroke-width="0.7" letter-spacing="0.5">200</tspan></text>
</svg>
</body></html>
